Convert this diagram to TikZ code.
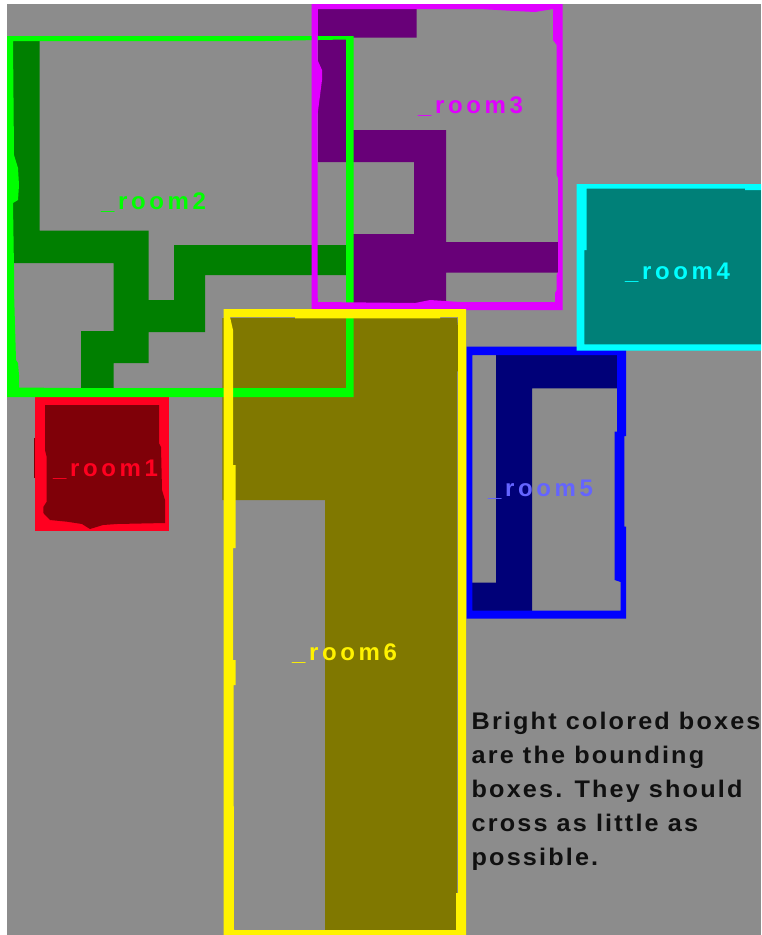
\documentclass[tikz,border=0pt]{standalone}
\usepackage{fontspec}
\newfontfamily\lblfont[LetterSpace=15]{Liberation Sans Bold}
\newfontfamily\notefont[LetterSpace=9,FakeStretch=1.05]{Liberation Sans Bold}
\definecolor{bggray}{HTML}{8C8C8C}
\definecolor{dkgreen}{HTML}{007F00}
\definecolor{dkpurple}{HTML}{680078}
\definecolor{dkolive}{HTML}{807800}
\definecolor{dkred}{HTML}{7F0008}
\definecolor{dkteal}{HTML}{008078}
\definecolor{dknavy}{HTML}{000078}
\definecolor{brred}{HTML}{FF0020}
\definecolor{brgreen}{HTML}{00FF00}
\definecolor{brmag}{HTML}{E000FF}
\definecolor{bryel}{HTML}{FFF200}
\definecolor{brblue}{HTML}{0000FF}
\definecolor{brcyan}{HTML}{00FFFF}
\definecolor{lblblue}{HTML}{6464FF}
\definecolor{notecol}{HTML}{101010}
\tikzset{
  roomlabel/.style={anchor=base west,inner sep=0pt,font=\lblfont\fontsize{24}{24}\selectfont},
  notetext/.style={anchor=base west,inner sep=0pt,align=left,font=\notefont\fontsize{24}{34}\selectfont,text=notecol},
  frame/.style={even odd rule}
}
\begin{document}
\begin{tikzpicture}[x=1pt,y=-1pt]
\useasboundingbox (0,0) rectangle (761,935);
\clip (0,0) rectangle (761,935);
\fill[white] (0,0) rectangle (761,935);
\fill[bggray] (7,4) rectangle (761,935);
% floor fills
\fill[dkgreen] (13,41)--(39.5,41)--(39.5,230.5)--(148.5,230.5)--(148.5,300)--(174,300)--(174,245)--(346,245)--(346,275)--(205,275)--(205,332)--(148.5,332)--(148.5,363)--(113.5,363)--(113.5,389)--(81,389)--(81,331)--(113.5,331)--(113.5,263)--(13,263)--cycle;
\fill[dkpurple] (318,9)--(416.7,9)--(416.7,37.5)--(350,37.5)--(350,130)--(446,130)--(446,242)--(558,242)--(558,272.5)--(446,272.5)--(446,303)--(350,303)--(350,234)--(414,234)--(414,162)--(318,162)--cycle;
\fill[dkolive] (222.3,318)--(457,318)--(462,365)--(457,372)--(457,931)--(325,931)--(325,500)--(222.3,500)--cycle;
\fill[dkred] (33.5,438) rectangle (37,478);
\fill[dkteal] (584,188)--(761,188)--(761,346)--(584,346)--cycle;
\fill[dknavy] (496,355)--(617,355)--(617,388.3)--(532,388.3)--(532,611)--(472,611)--(472,582.7)--(496,582.7)--cycle;
% red box
\fill[brred] (35,397) rectangle (169,530.7);
\fill[dkred] (45,405)--(159,405)--(159,443)--(161,447)--(162,490)--(165,500)--(165,523)--(117,524)--(103,525)--(90,529)--(82,524)--(67,521.7)--(50,520)--(43.3,513)--(43.3,507)--(46.7,501.7)--(46.7,457)--(45,450)--cycle;
% green box
\fill[brgreen,frame] (7,36) rectangle (353.5,397)
  (13,41)--(265,41)--(346,39.5)--(346,388)--(70,388)--(19,387.5)--(19,375)--(18,363)--(16,360)--(14,290)--(14,270)--(13,203)--(18,200)--(19,185)--(18,168)--(14,155)--cycle;
% magenta box
\fill[brmag,frame] (311.7,4) rectangle (562.7,310)
  (318,9)--(480,9)--(515,11)--(535,12)--(553,9)--(553,40)--(556.7,45)--(556.7,175)--(558,178)--(558,272)--(556.7,275)--(556.7,290)--(555,293)--(555,302)--(460,302)--(430,300)--(415,303)--(318,302)--(317.5,295)--(317.5,115)--(322,80)--(322,70)--(317.5,60)--cycle;
% blue box
\fill[brblue,frame] (466.7,346.7)--(626,346.7)--(626,436)--(624.3,436)--(624.3,526.7)--(626,526.7)--(626,618.7)--(466.7,618.7)--cycle
  (472.3,355)--(617,355)--(617,431.7)--(614.7,431.7)--(614.7,580)--(620.7,582)--(620.7,610.7)--(472.3,610.7)--cycle;
% yellow box
\fill[bryel,frame] (223.5,309) rectangle (466,940)
  (230,317)--(295,317)--(295,318.3)--(440,318.3)--(440,317)--(458,317)--(458,365)--(458,893)--(456,893)--(456,930)--(234,930)--(233.5,685)--(235.7,685)--(235.7,660)--(233,660)--(233,548)--(235.7,548)--(235.7,465)--(233,465)--(233,330)--cycle;
% cyan box
\fill[brcyan,frame] (576.7,184) rectangle (770,350.7)
  (586.7,188.7)--(745,188.7)--(745,190)--(761,190)--(761,344.3)--(584.3,344.3)--(584.3,250)--(586.7,250)--cycle;
% labels
\node[roomlabel,text=brred] (room1) at (53,476) {\_room1};
\node[roomlabel,text=brgreen] (room2) at (101,209) {\_room2};
\node[roomlabel,text=brmag] (room3) at (418,113) {\_room3};
\node[roomlabel,text=brcyan] (room4) at (625,279.5) {\_room4};
\node[roomlabel,text=lblblue] (room5) at (488,496) {\_room5};
\node[roomlabel,text=bryel] (room6) at (292,660) {\_room6};
\node[notetext] (note) at (471.5,865) {Bright colored boxes\\are the bounding\\boxes. They should\\cross as little as\\possible.};
\end{tikzpicture}
\end{document}
